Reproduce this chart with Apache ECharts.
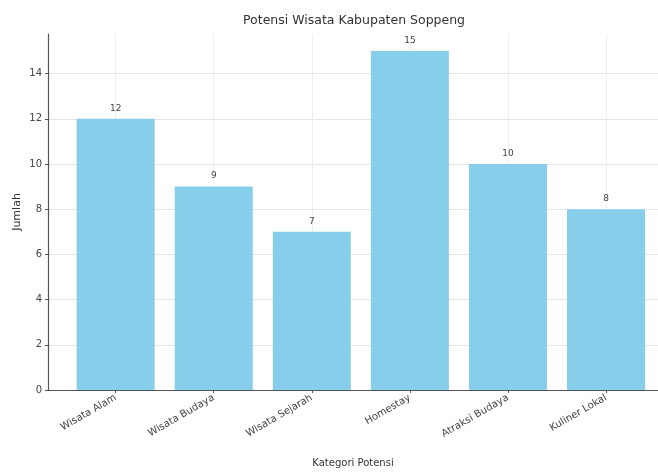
<!DOCTYPE html>
<html>
<head>
<meta charset="utf-8">
<script src="https://cdn.jsdelivr.net/npm/echarts@6/dist/echarts.min.js"></script>
<style>
  html, body { margin: 0; padding: 0; background: #fff; }
  #main { width: 658px; height: 472px; }
</style>
</head>
<body>
<div id="main"></div>
<script>
const categories = ['Wisata Alam', 'Wisata Budaya', 'Wisata Sejarah', 'Homestay', 'Atraksi Budaya', 'Kuliner Lokal'];
const counts = [12, 9, 7, 15, 10, 8];
const yTicks = [0, 2, 4, 6, 8, 10, 12, 14];

const positions = categories.map((c, i) => i);
const font = 'DejaVu Sans';

const chart = echarts.init(document.getElementById('main'));
const option = {
  animation: false,
  textStyle: { fontFamily: font },
  title: {
    text: 'Potensi Wisata Kabupaten Soppeng',
    left: 238, top: 9,
    textStyle: { fontFamily: font, fontSize: 12.5, fontWeight: 'normal', color: '#333' }
  },
  grid: { left: 48, right: 0, top: 34, bottom: 82, outerBoundsMode: 'none' },
  xAxis: {
    type: 'value',
    min: -0.69, max: 5.53,
    name: 'Kategori Potensi',
    nameLocation: 'middle', nameGap: 68,
    nameTextStyle: { fontSize: 10, color: '#333' },
    axisLine: { show: true, onZero: false, lineStyle: { color: '#555', width: 1.2 } },
    axisTick: { show: true, customValues: positions, length: 3, lineStyle: { color: '#555' } },
    axisLabel: {
      customValues: positions, rotate: 30, fontSize: 10, color: '#444', margin: 7,
      formatter: v => categories[Math.round(v)]
    },
    splitLine: { show: true, lineStyle: { color: '#eeeeee' } }
  },
  yAxis: {
    type: 'value',
    min: 0, max: 15.75,
    name: 'Jumlah',
    nameLocation: 'middle', nameGap: 25, nameMoveOverlap: false,
    nameTextStyle: { fontSize: 11, color: '#333' },
    axisLine: { show: true, onZero: false, lineStyle: { color: '#555', width: 1.2 } },
    axisTick: { show: true, customValues: yTicks, length: 3, lineStyle: { color: '#555' } },
    axisLabel: { customValues: yTicks, fontSize: 10, color: '#444', margin: 6 },
    splitLine: { show: true, lineStyle: { color: '#e6e6e6' } }
  },
  series: [{
    type: 'bar',
    barWidth: 78,
    data: counts.map((v, i) => [i, v]),
    itemStyle: { color: '#87CEEB' },
    label: { show: true, position: 'top', distance: 6, fontSize: 9, color: '#444',
      formatter: p => p.value[1] }
  }]
};
chart.setOption(option);
</script>
</body>
</html>
